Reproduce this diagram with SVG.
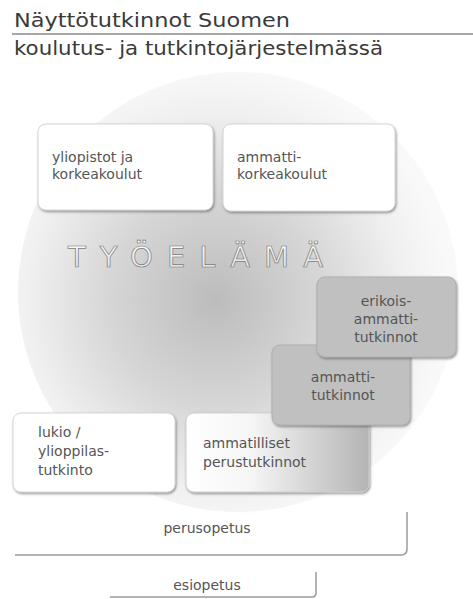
<svg xmlns="http://www.w3.org/2000/svg" width="473" height="599" viewBox="0 0 473 599">
<defs>
<radialGradient id="bg" cx="215" cy="300" r="235" gradientUnits="userSpaceOnUse">
<stop offset="0" stop-color="#bcbcbc"/>
<stop offset="0.45" stop-color="#d6d6d6"/>
<stop offset="0.8" stop-color="#f0f0f0"/>
<stop offset="1" stop-color="#f9f9f9"/>
</radialGradient>
<linearGradient id="perus" x1="0" y1="0" x2="1" y2="0">
<stop offset="0" stop-color="#ffffff"/>
<stop offset="0.35" stop-color="#f6f6f6"/>
<stop offset="1" stop-color="#b4b4b4"/>
</linearGradient>
<linearGradient id="letters" x1="0" y1="0" x2="0" y2="1">
<stop offset="0" stop-color="#ffffff"/>
<stop offset="1" stop-color="#dcdcdc"/>
</linearGradient>
<filter id="sh" x="-10%" y="-10%" width="125%" height="130%">
<feDropShadow dx="1" dy="1.5" stdDeviation="1" flood-color="#444" flood-opacity="0.55"/>
</filter>
</defs>
<style>
.t{font-family:"DejaVu Sans","Liberation Sans",sans-serif;fill:#555;font-size:14px}
.ttl{font-family:"DejaVu Sans","Liberation Sans",sans-serif;fill:#3a3a3a;font-size:19px}
.wb{fill:#fff;stroke:#d6d6d6;stroke-width:1}
.gb{fill:#c0c0c0;stroke:#b0b0b0;stroke-width:1}
.edge{fill:none;stroke:#9a9a9a;stroke-width:1.5}
.c{text-anchor:middle}
</style>
<rect width="473" height="599" fill="#fff"/>
<g id="title">
<text class="ttl" x="14" y="27" textLength="276" lengthAdjust="spacingAndGlyphs">Näyttötutkinnot Suomen</text>
<line x1="12" y1="34" x2="473" y2="34" stroke="#8a8a8a" stroke-width="1.5"/>
<text class="ttl" x="14" y="55" textLength="369" lengthAdjust="spacingAndGlyphs">koulutus- ja tutkintojärjestelmässä</text>
</g>
<g id="tyoelama">
<circle cx="238" cy="292" r="220" fill="url(#bg)"/>
<text x="68" y="267" font-family="DejaVu Sans, sans-serif" font-size="29" fill="url(#letters)" stroke="#7a7a7a" stroke-width="0.7" textLength="255" lengthAdjust="spacing">TYÖELÄMÄ</text>
</g>
<g id="yliopistot">
<rect class="wb" x="38" y="124" width="175" height="86" rx="8" filter="url(#sh)"/>
<text class="t" x="52" y="162">yliopistot ja</text>
<text class="t" x="52" y="179">korkeakoulut</text>
</g>
<g id="amk">
<rect class="wb" x="223" y="124" width="172" height="87" rx="8" filter="url(#sh)"/>
<text class="t" x="237" y="162">ammatti-</text>
<text class="t" x="237" y="179">korkeakoulut</text>
</g>
<g id="lukio">
<rect class="wb" x="13" y="413" width="162" height="79" rx="8" filter="url(#sh)"/>
<text class="t" x="38" y="437">lukio /</text>
<text class="t" x="38" y="456">ylioppilas-</text>
<text class="t" x="38" y="475">tutkinto</text>
</g>
<g id="ammatilliset">
<rect x="186" y="413" width="183" height="79" rx="8" fill="url(#perus)" stroke="#cfcfcf" filter="url(#sh)"/>
<text class="t" x="203" y="448">ammatilliset</text>
<text class="t" x="203" y="467">perustutkinnot</text>
</g>
<g id="ammattitutkinnot">
<rect class="gb" x="272" y="345" width="138" height="80" rx="8" filter="url(#sh)"/>
<text class="t c" x="343" y="382">ammatti-</text>
<text class="t c" x="343" y="400">tutkinnot</text>
</g>
<g id="erikois">
<rect class="gb" x="317" y="277" width="139" height="80" rx="8" filter="url(#sh)"/>
<text class="t c" x="386" y="306">erikois-</text>
<text class="t c" x="386" y="324">ammatti-</text>
<text class="t c" x="386" y="342">tutkinnot</text>
</g>
<g id="perusopetus">
<path class="edge" d="M15,555 H401 Q407,555 407,549 V512"/>
<text class="t c" x="207" y="533">perusopetus</text>
</g>
<g id="esiopetus">
<path class="edge" d="M110,597 H312 Q316,597 316,593 V572"/>
<text class="t c" x="207" y="590">esiopetus</text>
</g>
<g id="connectors"/>
</svg>
